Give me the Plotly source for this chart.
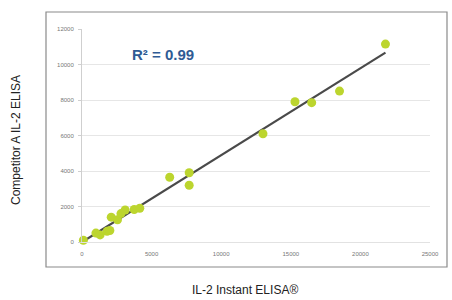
import numpy as np
import plotly.graph_objects as go

# Data
il2_instant = [100, 1000, 1300, 1800, 2000, 2100, 2550, 2800, 3100, 3750, 4150,
               6300, 7700, 7700, 13000, 15300, 16500, 18500, 21800]
competitor_a = [100, 500, 400, 600, 650, 1400, 1250, 1600, 1800, 1830, 1900,
                3650, 3900, 3200, 6100, 7900, 7850, 8500, 11150]
x_ticks = [0, 5000, 10000, 15000, 20000, 25000]
y_ticks = [0, 2000, 4000, 6000, 8000, 10000, 12000]
r2_label = "R² = 0.99"
x_title = "IL-2 Instant ELISA®"
y_title = "Competitor A IL-2 ELISA"

# Linear fit for trendline
slope, intercept = np.polyfit(il2_instant, competitor_a, 1)
fx = [min(il2_instant), max(il2_instant)]
fy = [slope * v + intercept for v in fx]

fig = go.Figure()
fig.add_trace(go.Scatter(x=fx, y=fy, mode="lines",
                         line=dict(color="#4a4a4a", width=2.2),
                         hoverinfo="skip", showlegend=False))
fig.add_trace(go.Scatter(x=il2_instant, y=competitor_a, mode="markers",
                         marker=dict(color="#bcd52e", size=9, line=dict(width=0)),
                         cliponaxis=False, showlegend=False))

L, R, T, B = 82, 22, 29, 58
W, H = 452, 300
pw, ph = W - L - R, H - T - B

def px2paper_x(px):
    return (px - L) / pw

def px2paper_y(py):
    return (H - B - py) / ph

fig.update_layout(
    width=W, height=H,
    margin=dict(l=L, r=R, t=T, b=B),
    paper_bgcolor="white", plot_bgcolor="white",
    font=dict(family="Liberation Sans, Arial, sans-serif", color="#222"),
    xaxis=dict(range=[0, 25000], tickvals=x_ticks,
               ticktext=[str(v) for v in x_ticks],
               tickfont=dict(size=6, color="#777"),
               showgrid=False, zeroline=False,
               showline=True, linecolor="#e2e2e2", linewidth=1,
               ticks="", ticklabelstandoff=6),
    yaxis=dict(range=[0, 12000], tickvals=y_ticks,
               ticktext=[str(v) for v in y_ticks],
               tickfont=dict(size=6, color="#777"),
               showgrid=True, gridcolor="#e6e6e6", gridwidth=1,
               zeroline=False, showline=True, linecolor="#cfcfcf", linewidth=1,
               ticks="outside", ticklen=3, tickcolor="#cfcfcf", ticklabelstandoff=3),
    shapes=[dict(type="rect", xref="paper", yref="paper",
                 x0=px2paper_x(46), x1=px2paper_x(447),
                 y0=px2paper_y(267), y1=px2paper_y(12),
                 line=dict(color="#8a8a8a", width=1.2), fillcolor="rgba(0,0,0,0)",
                 layer="below")],
    annotations=[
        dict(text="<b>" + r2_label + "</b>", xref="paper", yref="paper",
             x=px2paper_x(163), y=px2paper_y(54), showarrow=False,
             font=dict(size=15, color="#2f5b94", family="Liberation Sans, Arial, sans-serif"),
             xanchor="center", yanchor="middle"),
        dict(text=x_title, xref="paper", yref="paper",
             x=px2paper_x(245), y=px2paper_y(290), showarrow=False,
             font=dict(size=12, color="#222"), xanchor="center", yanchor="middle"),
        dict(text=y_title, xref="paper", yref="paper",
             x=px2paper_x(16), y=px2paper_y(140), showarrow=False, textangle=-90,
             font=dict(size=12, color="#222"), xanchor="center", yanchor="middle"),
    ],
)

fig.write_html("out.html", config={"displayModeBar": False},
               post_script="document.body.style.margin='0';document.body.style.overflow='hidden';")
